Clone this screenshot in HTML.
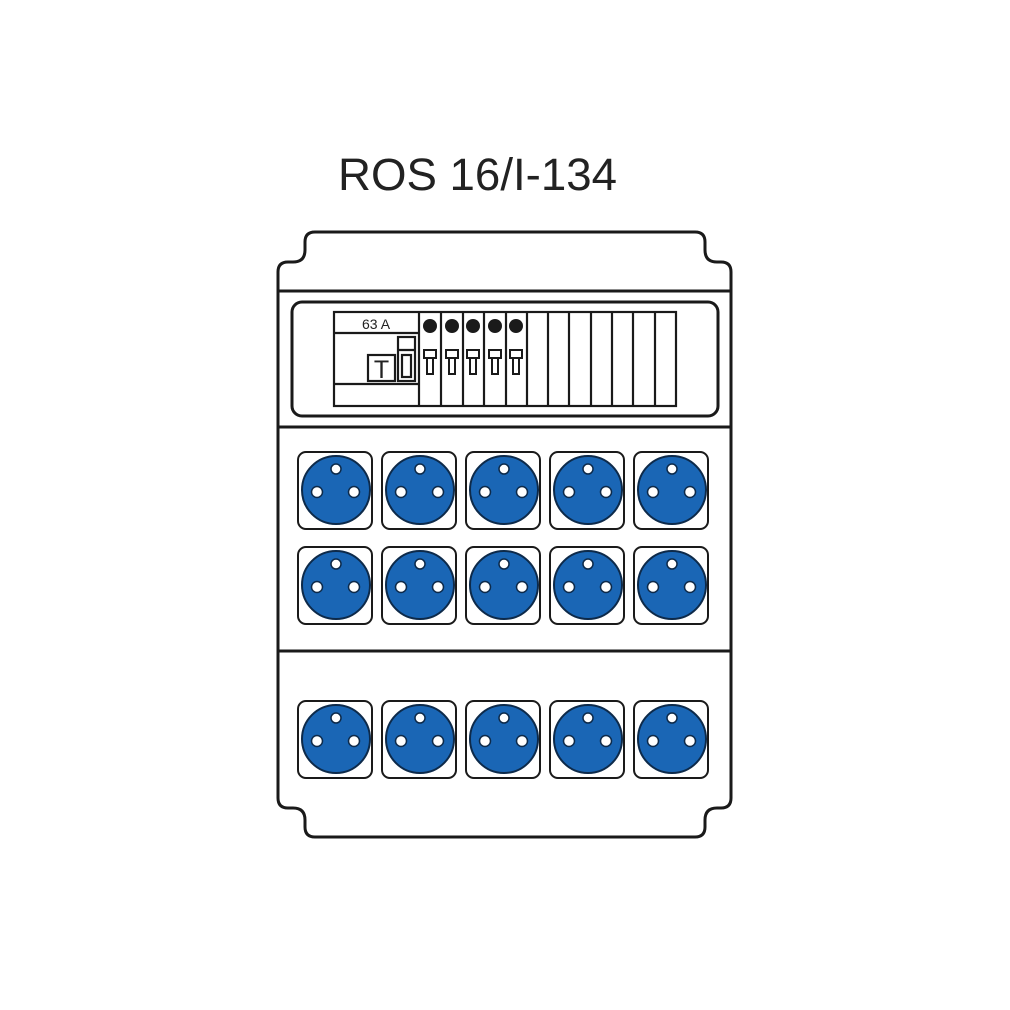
<!DOCTYPE html>
<html><head><meta charset="utf-8"><style>
html,body{margin:0;padding:0;background:#fff;width:1010px;height:1010px;overflow:hidden}
</style></head><body>
<svg width="1010" height="1010" viewBox="0 0 1010 1010" xmlns="http://www.w3.org/2000/svg">
<text x="338" y="190" font-family="Liberation Sans, sans-serif" font-size="45.5" fill="#222" textLength="279" lengthAdjust="spacingAndGlyphs">ROS 16/I-134</text>
<g fill="none" stroke="#1a1a1a" stroke-width="3">
<path d="M315,232 H695 Q705,232 705,242 V250 Q705,262 717,262 H721 Q731,262 731,272 V798 Q731,808 721,808 H717 Q705,808 705,820 V827 Q705,837 695,837 H315 Q305,837 305,827 V820 Q305,808 293,808 H288 Q278,808 278,798 V272 Q278,262 288,262 H293 Q305,262 305,250 V242 Q305,232 315,232 Z"/>
<line x1="278" y1="291" x2="731" y2="291"/>
<line x1="278" y1="427" x2="731" y2="427"/>
<line x1="278" y1="651" x2="731" y2="651"/>
<rect x="292" y="302" width="426" height="114" rx="10"/>
</g>
<g fill="none" stroke="#1a1a1a" stroke-width="2.2">
<rect x="334" y="312" width="342" height="94"/>
<line x1="334" y1="333" x2="419" y2="333"/>
<line x1="334" y1="384" x2="419" y2="384"/>
<rect x="368" y="355" width="27" height="26"/>
<rect x="398" y="337" width="17" height="44"/>
<line x1="398" y1="350" x2="415" y2="350"/>
<rect x="402" y="355" width="9" height="22"/>
<line x1="419" y1="312" x2="419" y2="406"/>
<line x1="441" y1="312" x2="441" y2="406"/>
<line x1="463" y1="312" x2="463" y2="406"/>
<line x1="484" y1="312" x2="484" y2="406"/>
<line x1="506" y1="312" x2="506" y2="406"/>
<line x1="527" y1="312" x2="527" y2="406"/>
<line x1="548" y1="312" x2="548" y2="406"/>
<line x1="569" y1="312" x2="569" y2="406"/>
<line x1="591" y1="312" x2="591" y2="406"/>
<line x1="612" y1="312" x2="612" y2="406"/>
<line x1="633" y1="312" x2="633" y2="406"/>
<line x1="655" y1="312" x2="655" y2="406"/>
</g>
<text x="362" y="329" font-family="Liberation Sans, sans-serif" font-size="14" fill="#222">63 A</text>
<text x="381.5" y="378" text-anchor="middle" font-family="Liberation Sans, sans-serif" font-size="25" fill="#222">T</text>
<g fill="#1a1a1a">
<circle cx="430" cy="326" r="7"/><circle cx="452" cy="326" r="7"/><circle cx="473" cy="326" r="7"/><circle cx="495" cy="326" r="7"/><circle cx="516" cy="326" r="7"/>
</g>
<g fill="none" stroke="#1a1a1a" stroke-width="2">
<g id="tg"><rect x="424" y="350" width="12" height="8"/><rect x="427" y="358" width="6" height="16"/></g>
<use href="#tg" x="22"/><use href="#tg" x="43"/><use href="#tg" x="65"/><use href="#tg" x="86"/>
</g>
<defs>
<g id="s">
<rect x="-38" y="-38" width="74" height="77" rx="8" fill="#fff" stroke="#1a1a1a" stroke-width="2"/>
<circle cx="0" cy="0" r="34" fill="#1a66b5" stroke="#0d2a4a" stroke-width="2"/>
<circle cx="0" cy="-21" r="5" fill="#fff" stroke="#0d2a4a" stroke-width="1.5"/>
<circle cx="-19" cy="2" r="5.5" fill="#fff" stroke="#0d2a4a" stroke-width="1.5"/>
<circle cx="18" cy="2" r="5.5" fill="#fff" stroke="#0d2a4a" stroke-width="1.5"/>
</g>
</defs>
<use href="#s" x="336" y="490"/><use href="#s" x="420" y="490"/><use href="#s" x="504" y="490"/><use href="#s" x="588" y="490"/><use href="#s" x="672" y="490"/>
<use href="#s" x="336" y="585"/><use href="#s" x="420" y="585"/><use href="#s" x="504" y="585"/><use href="#s" x="588" y="585"/><use href="#s" x="672" y="585"/>
<use href="#s" x="336" y="739"/><use href="#s" x="420" y="739"/><use href="#s" x="504" y="739"/><use href="#s" x="588" y="739"/><use href="#s" x="672" y="739"/>
</svg>
</body></html>
